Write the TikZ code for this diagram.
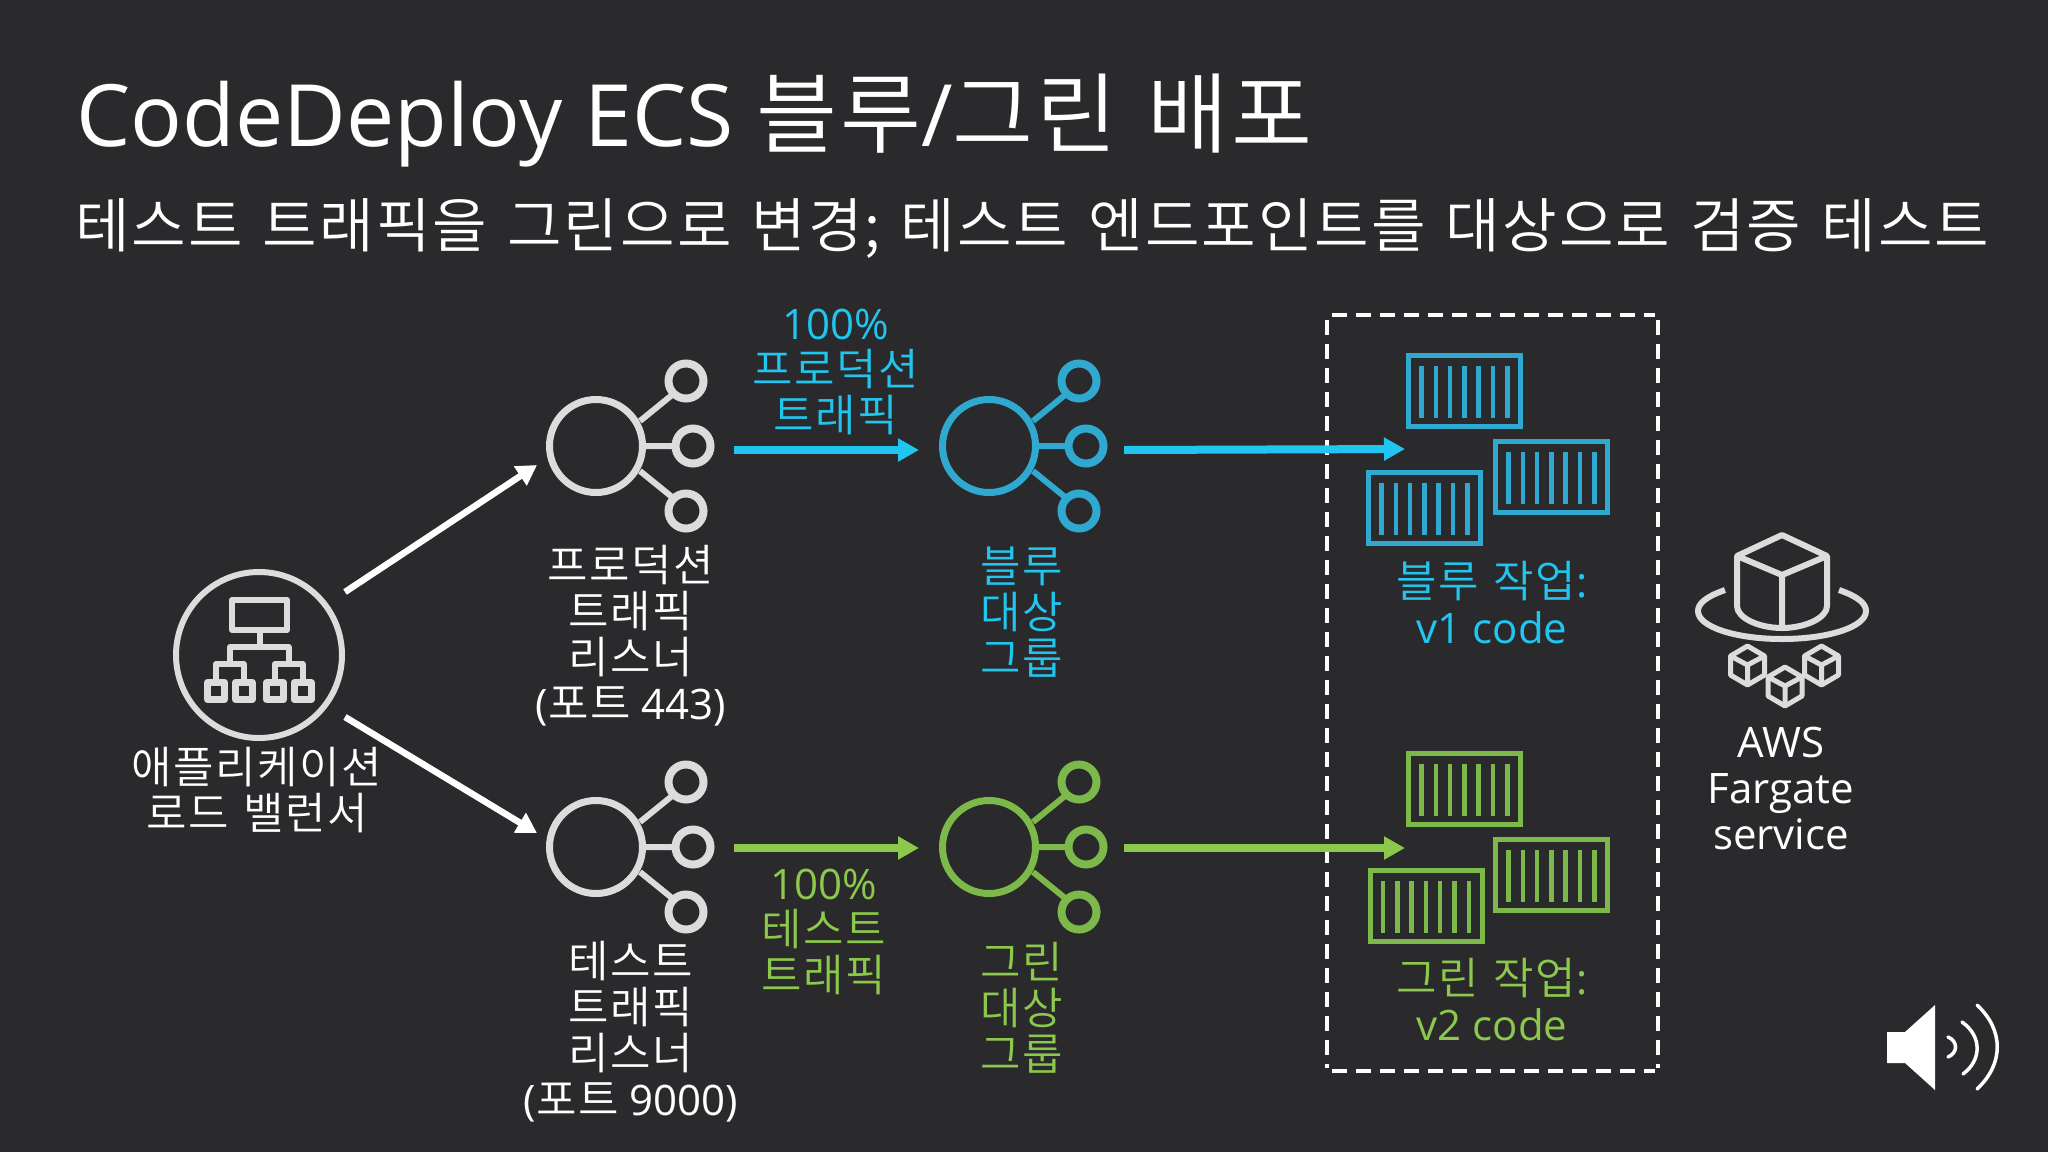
\documentclass[tikz,border=0pt]{standalone}
\usepackage{fontspec}
\setmainfont{Open Sans}
\newfontfamily\kr{Noto Sans CJK KR}[UprightFont=* DemiLight,LetterSpace=3.5,WordSpace=1.3]
\usetikzlibrary{arrows.meta}
\definecolor{bg}{HTML}{2A2A2C}
\definecolor{bluetxt}{HTML}{20C6F0}
\definecolor{blueicon}{HTML}{2FA9CF}
\definecolor{greentxt}{HTML}{8CC84B}
\definecolor{greenicon}{HTML}{7CB84A}
\definecolor{greyicon}{HTML}{DCDCDC}
\tikzset{
  lab/.style={align=center,inner sep=0pt,text=white,font=\fontsize{42}{46}\selectfont},
  flow/.style={line width=8pt,-{Triangle[length=21pt,width=22pt]}},
  lbarrow/.style={line width=6.5pt,white,-{Triangle[length=20pt,width=22pt]}},
  icon/.style={line width=6pt,line join=round},
  dashside/.style={draw=white,line width=3.6pt,dash pattern=on 15pt off 9pt,shorten >=3pt,shorten <=5pt},
}
\newcommand\K[1]{{\kr\fontsize{44}{46}\selectfont #1}}
% hub icon: centre of big circle at #1,#2; colour #3
\newcommand\hub[3]{\begin{scope}[shift={(#1,#2)},draw=#3,line width=7pt]
  \draw (0,0) circle (46.5);
  \draw[line width=8pt] (90,-65) circle (17.5) (97,0) circle (17.5) (90,65) circle (17.5);
  \draw[line width=6pt] (44,-25) -- (76,-51) (49,0) -- (76,0) (44,25) -- (76,51);
\end{scope}}
% container icon: top left #1,#2; colour #3
\newcommand\crate[3]{\begin{scope}[shift={(#1,#2)},draw=#3]
  \draw[line width=5pt,line join=miter] (0,0) rectangle (112,71);
  \foreach \i in {0,...,6} \draw[line width=4.5pt] ({13+\i*14.3},10) -- ({13+\i*14.3},62);
\end{scope}}
\newcommand\minicube[2]{\begin{scope}[shift={(#1,#2)},draw=greyicon,line width=5pt,line join=round]
  \draw (0,-19) -- (17,-9) -- (17,10) -- (0,20) -- (-17,10) -- (-17,-9) -- cycle;
  \draw (-17,-9) -- (0,0) -- (17,-9) (0,0) -- (0,20);
\end{scope}}
\begin{document}
\begin{tikzpicture}[x=1pt,y=-1pt]
\useasboundingbox (0,0) rectangle (2048,1152);
\fill[bg] (0,0) rectangle (2048,1152);

% titles
\node[anchor=base west,inner sep=0pt,text=white,font=\fontsize{86}{90}\selectfont] (title) at (76,146) {CodeDeploy ECS {\kr\fontsize{88}{90}\selectfont 블루}/{\kr\fontsize{88}{90}\selectfont 그린 배포}};
\node[anchor=base west,inner sep=0pt,text=white,font=\kr\fontsize{59.3}{60}\selectfont] (subtitle) at (75,247) {테스트 트래픽을 그린으로 변경; 테스트 엔드포인트를 대상으로 검증 테스트};

% load balancer icon
\node[circle,draw=greyicon,line width=6pt,minimum size=166pt,inner sep=0pt] (lb) at (259,655) {};
\begin{scope}[draw=greyicon,icon]
  \draw (232,600) rectangle (287,630);
  \draw (259.5,630) -- (259.5,647);
  \draw (230,664) -- (230,647) -- (288.5,647) -- (288.5,664);
  \draw (216,682) -- (216,664) -- (243.5,664) -- (243.5,682);
  \draw (275,682) -- (275,664) -- (302.5,664) -- (302.5,682);
  \draw[line width=7pt] (207.5,682.5) rectangle (224.5,699.5) (235.5,682.5) rectangle (252,699.5) (266.5,682.5) rectangle (283.5,699.5) (294,682.5) rectangle (311,699.5);
\end{scope}

% hubs
\hub{596}{446}{greyicon}
\hub{989}{446}{blueicon}
\hub{596}{847}{greyicon}
\hub{989}{847}{greenicon}

% dashed box
\node[minimum width=331pt,minimum height=756pt,inner sep=0pt] (tasks) at (1492.5,693) {};
\draw[dashside] (tasks.north west) -- (tasks.north east);
\draw[dashside] (tasks.south west) -- (tasks.south east);
\draw[dashside] (tasks.north west) -- (tasks.south west);
\draw[dashside] (tasks.north east) -- (tasks.south east);

% containers
\crate{1408.5}{355.5}{blueicon}
\crate{1495.5}{441.5}{blueicon}
\crate{1368.5}{472.5}{blueicon}
\crate{1408.5}{753.5}{greenicon}
\crate{1495.5}{839.5}{greenicon}
\crate{1370}{870.5}{greenicon}

% fargate icon
\begin{scope}[draw=greyicon,line width=6pt,line join=round,line cap=butt]
  \draw (1782,535) -- (1827,556) -- (1827,606) .. controls (1827,618) and (1805,628) .. (1782,628) .. controls (1759,628) and (1737,618) .. (1737,606) -- (1737,556) -- cycle;
  \draw (1737,556) -- (1782,575) -- (1827,556) (1782,575) -- (1782,628);
  \draw (1725,590) .. controls (1705,597) and (1698,604) .. (1698,611) .. controls (1698,627) and (1736,639) .. (1782,639) .. controls (1828,639) and (1866,627) .. (1866,611) .. controls (1866,604) and (1859,597) .. (1839,590);
\end{scope}
\minicube{1747.5}{665}
\minicube{1821.5}{665}
\minicube{1785}{686}

% connector end points
\coordinate (lbtop) at (345,592);
\coordinate (lbbot) at (345,717);
\coordinate (listtop) at (537,465);
\coordinate (listbot) at (537,833);
\coordinate (p1s) at (734,450);
\coordinate (p1e) at (919,450);
\coordinate (p2s) at (1124,450);
\coordinate (p2e) at (1405,449);
\coordinate (g1s) at (734,848);
\coordinate (g1e) at (919,848);
\coordinate (g2s) at (1124,848);
\coordinate (g2e) at (1405,848);

\draw[lbarrow] (lbtop) -- (listtop);
\draw[lbarrow] (lbbot) -- (listbot);
\draw[flow,bluetxt] (p1s) -- (p1e);
\draw[flow,bluetxt] (p2s) -- (p2e);
\draw[flow,greentxt] (g1s) -- (g1e);
\draw[flow,greentxt] (g2s) -- (g2e);

% labels
\node[lab] (lbl) at (257,790) {\K{애플리케이션}\\\K{로드 밸런서}};
\node[lab] (l1) at (631,636) {\K{프로덕션}\\\K{트래픽}\\\K{리스너}\\(\K{포트} 443)};
\node[lab] (l2) at (631,1032) {\K{테스트}\\\K{트래픽}\\\K{리스너}\\(\K{포트} 9000)};
\node[lab,text=bluetxt] (t1) at (836,372) {100\%\\\K{프로덕션}\\\K{트래픽}};
\node[lab,text=greentxt] (t2) at (824,932) {100\%\\\K{테스트}\\\K{트래픽}};
\node[lab,text=bluetxt] (g1) at (1022,612) {\K{블루}\\\K{대상}\\\K{그룹}};
\node[lab,text=greentxt] (g2) at (1022,1008) {\K{그린}\\\K{대상}\\\K{그룹}};
\node[lab,text=bluetxt] (w1) at (1492,603) {\K{블루 작업}:\\v1 code};
\node[lab,text=greentxt] (w2) at (1492,1000) {\K{그린 작업}:\\v2 code};
\node[lab] (far) at (1781,788) {AWS\\Fargate\\service};

% speaker
\fill[white] (1887,1032) -- (1905,1032) -- (1935,1005) -- (1935,1090) -- (1905,1063) -- (1887,1063) -- cycle;
\begin{scope}[draw=white,line width=3.5pt,line cap=round]
  \draw (1948,1037) .. controls (1958,1041) and (1958,1053) .. (1948,1057);
  \draw (1962,1022) .. controls (1982,1036) and (1982,1060) .. (1963,1074);
  \draw (1977,1005) .. controls (2004,1030) and (2004,1064) .. (1977,1089);
\end{scope}
\end{tikzpicture}
\end{document}
